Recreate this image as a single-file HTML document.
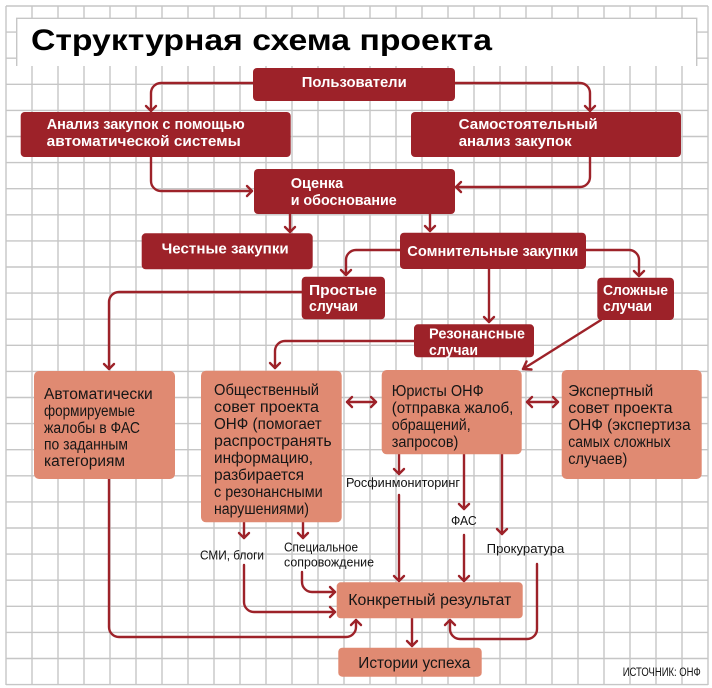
<!DOCTYPE html>
<html><head><meta charset="utf-8"><style>
html,body{margin:0;padding:0;background:#fff;}
svg{display:block;}
text{font-family:"Liberation Sans","DejaVu Sans",sans-serif;}
.w{fill:#fff;font-weight:bold;font-size:15px;}
.b{fill:#161616;font-size:15.5px;}
.l{fill:#111;font-size:13px;}
.ln{fill:none;stroke:#9d2229;stroke-width:2.4;stroke-linecap:round;stroke-linejoin:round;}
.d{fill:#9d2229;}
.s{fill:#e08a72;}
</style></head><body>
<svg width="712" height="688" viewBox="0 0 712 688" xmlns="http://www.w3.org/2000/svg">
<g stroke="#c6c6c6" stroke-width="1.4">
<line x1="6" y1="6" x2="6" y2="685"/><line x1="32" y1="6" x2="32" y2="685"/><line x1="58" y1="6" x2="58" y2="685"/><line x1="84" y1="6" x2="84" y2="685"/><line x1="110" y1="6" x2="110" y2="685"/><line x1="136" y1="6" x2="136" y2="685"/><line x1="162" y1="6" x2="162" y2="685"/><line x1="188" y1="6" x2="188" y2="685"/><line x1="214" y1="6" x2="214" y2="685"/><line x1="240" y1="6" x2="240" y2="685"/><line x1="266" y1="6" x2="266" y2="685"/><line x1="292" y1="6" x2="292" y2="685"/><line x1="318" y1="6" x2="318" y2="685"/><line x1="344" y1="6" x2="344" y2="685"/><line x1="370" y1="6" x2="370" y2="685"/><line x1="396" y1="6" x2="396" y2="685"/><line x1="422" y1="6" x2="422" y2="685"/><line x1="448" y1="6" x2="448" y2="685"/><line x1="474" y1="6" x2="474" y2="685"/><line x1="500" y1="6" x2="500" y2="685"/><line x1="526" y1="6" x2="526" y2="685"/><line x1="552" y1="6" x2="552" y2="685"/><line x1="578" y1="6" x2="578" y2="685"/><line x1="604" y1="6" x2="604" y2="685"/><line x1="630" y1="6" x2="630" y2="685"/><line x1="656" y1="6" x2="656" y2="685"/><line x1="682" y1="6" x2="682" y2="685"/><line x1="708" y1="6" x2="708" y2="685"/>
<line x1="6" y1="6" x2="708" y2="6"/><line x1="6" y1="32.1" x2="708" y2="32.1"/><line x1="6" y1="58.2" x2="708" y2="58.2"/><line x1="6" y1="84.3" x2="708" y2="84.3"/><line x1="6" y1="110.4" x2="708" y2="110.4"/><line x1="6" y1="136.5" x2="708" y2="136.5"/><line x1="6" y1="162.6" x2="708" y2="162.6"/><line x1="6" y1="188.7" x2="708" y2="188.7"/><line x1="6" y1="214.8" x2="708" y2="214.8"/><line x1="6" y1="240.9" x2="708" y2="240.9"/><line x1="6" y1="267" x2="708" y2="267"/><line x1="6" y1="293.1" x2="708" y2="293.1"/><line x1="6" y1="319.2" x2="708" y2="319.2"/><line x1="6" y1="345.3" x2="708" y2="345.3"/><line x1="6" y1="371.4" x2="708" y2="371.4"/><line x1="6" y1="397.5" x2="708" y2="397.5"/><line x1="6" y1="423.6" x2="708" y2="423.6"/><line x1="6" y1="449.7" x2="708" y2="449.7"/><line x1="6" y1="475.8" x2="708" y2="475.8"/><line x1="6" y1="501.9" x2="708" y2="501.9"/><line x1="6" y1="528" x2="708" y2="528"/><line x1="6" y1="554.1" x2="708" y2="554.1"/><line x1="6" y1="580.2" x2="708" y2="580.2"/><line x1="6" y1="606.3" x2="708" y2="606.3"/><line x1="6" y1="632.4" x2="708" y2="632.4"/><line x1="6" y1="658.5" x2="708" y2="658.5"/><line x1="6" y1="684.6" x2="708" y2="684.6"/>
</g>
<rect x="16.7" y="18.3" width="680" height="47.7" fill="#fff"/>
<path d="M16.7 66 V18.3 H696.7 V66" fill="none" stroke="#c6c6c6" stroke-width="1.4"/>
<text x="31" y="50" font-size="30" font-weight="bold" fill="#000" textLength="461" lengthAdjust="spacingAndGlyphs">Структурная схема проекта</text>

<!-- connectors -->
<g class="ln">
<path d="M253 83 H161 A10 10 0 0 0 151 93 V111"/><polyline points="146,106 151,111 156,106"/>
<path d="M455 83 H580 A10 10 0 0 1 590 93 V111"/><polyline points="585,106 590,111 595,106"/>
<path d="M151 157 V181 A10 10 0 0 0 161 191 H252"/><polyline points="247,186 252,191 247,196"/>
<path d="M590 157 V177 A10 10 0 0 1 580 187 H456"/><polyline points="461,182 456,187 461,192"/>
<path d="M290 214 V232"/><polyline points="285,227 290,232 295,227"/>
<path d="M430 214 V231"/><polyline points="425,226 430,231 435,226"/>
<path d="M400 250 H356 A10 10 0 0 0 346 260 V275"/><polyline points="341,270 346,275 351,270"/>
<path d="M586 250 H629 A10 10 0 0 1 639 260 V276"/><polyline points="634,271 639,276 644,271"/>
<path d="M489 269 V322"/><polyline points="484,317 489,322 494,317"/>
<path d="M302 292 H119 A10 10 0 0 0 109 302 V369"/><polyline points="104,364 109,369 114,364"/>
<path d="M414 341 H285 A10 10 0 0 0 275 351 V368"/><polyline points="270,363 275,368 280,363"/>
<path d="M601 320 L523 369"/><polyline points="526.5,361.5 523,369 531.5,369.5"/>
<path d="M347 402 H376"/><polyline points="352,397 347,402 352,407"/><polyline points="371,397 376,402 371,407"/>
<path d="M527 402 H558"/><polyline points="532,397 527,402 532,407"/><polyline points="553,397 558,402 553,407"/>
<path d="M399 454 V474"/><polyline points="394,469 399,474 404,469"/>
<path d="M399 495 V581"/><polyline points="394,576 399,581 404,576"/>
<path d="M464 454 V509"/><polyline points="459,504 464,509 469,504"/>
<path d="M464 535 V581"/><polyline points="459,576 464,581 469,576"/>
<path d="M502 454 V534"/><polyline points="497,529 502,534 507,529"/>
<path d="M537 564 V629 A10 10 0 0 1 527 639 H460 A10 10 0 0 1 450 629 V620"/><polyline points="445,625 450,620 455,625"/>
<path d="M244 522 V538"/><polyline points="239,533 244,538 249,533"/>
<path d="M303 522 V538"/><polyline points="298,533 303,538 308,533"/>
<path d="M244 565 V602 A10 10 0 0 0 254 612 H335"/><polyline points="330,607 335,612 330,617"/>
<path d="M302 572 V582 A10 10 0 0 0 312 592 H335"/><polyline points="330,587 335,592 330,597"/>
<path d="M109 479 V627 A10 10 0 0 0 119 637 H346 A10 10 0 0 0 356 627 V620"/><polyline points="351,625 356,620 361,625"/>
<path d="M412 618 V646"/><polyline points="407,641 412,646 417,641"/>
</g>

<!-- dark boxes -->
<rect class="d" x="253" y="68" width="202" height="33" rx="4"/>
<text class="w" x="301.7" y="87" textLength="105" lengthAdjust="spacingAndGlyphs">Пользователи</text>
<rect class="d" x="20.7" y="112" width="270" height="45" rx="4"/>
<text class="w" x="46.7" y="129" textLength="198" lengthAdjust="spacingAndGlyphs">Анализ закупок с помощью</text>
<text class="w" x="46.7" y="146" textLength="194" lengthAdjust="spacingAndGlyphs">автоматической системы</text>
<rect class="d" x="411" y="112" width="270" height="45" rx="4"/>
<text class="w" x="458.7" y="129" textLength="139" lengthAdjust="spacingAndGlyphs">Самостоятельный</text>
<text class="w" x="458.7" y="146" textLength="113" lengthAdjust="spacingAndGlyphs">анализ закупок</text>
<rect class="d" x="254" y="169" width="201" height="45" rx="4"/>
<text class="w" x="290.7" y="188" textLength="52.6" lengthAdjust="spacingAndGlyphs">Оценка</text>
<text class="w" x="290.7" y="205" textLength="106" lengthAdjust="spacingAndGlyphs">и обоснование</text>
<rect class="d" x="141.7" y="233.3" width="171" height="36" rx="4"/>
<text class="w" x="161.7" y="253.3" textLength="127" lengthAdjust="spacingAndGlyphs">Честные закупки</text>
<rect class="d" x="400" y="232.7" width="186" height="36.3" rx="4"/>
<text class="w" x="407.3" y="256" textLength="171" lengthAdjust="spacingAndGlyphs">Сомнительные закупки</text>
<rect class="d" x="301.7" y="276.7" width="83.3" height="42.6" rx="4"/>
<text class="w" x="309" y="295" textLength="68" lengthAdjust="spacingAndGlyphs">Простые</text>
<text class="w" x="309" y="311" textLength="49" lengthAdjust="spacingAndGlyphs">случаи</text>
<rect class="d" x="597.3" y="277.7" width="76.7" height="42.3" rx="4"/>
<text class="w" x="603" y="295" textLength="65" lengthAdjust="spacingAndGlyphs">Сложные</text>
<text class="w" x="603" y="311" textLength="49" lengthAdjust="spacingAndGlyphs">случаи</text>
<rect class="d" x="414" y="324.3" width="120" height="33" rx="4"/>
<text class="w" x="429" y="338.5" textLength="96" lengthAdjust="spacingAndGlyphs">Резонансные</text>
<text class="w" x="429" y="355" textLength="49" lengthAdjust="spacingAndGlyphs">случаи</text>

<!-- light boxes -->
<rect class="s" x="34" y="371" width="141" height="108" rx="5"/>
<text class="b" x="44" y="399" textLength="108.7" lengthAdjust="spacingAndGlyphs">Автоматически</text>
<text class="b" x="44" y="416" textLength="91" lengthAdjust="spacingAndGlyphs">формируемые</text>
<text class="b" x="44" y="433" textLength="96" lengthAdjust="spacingAndGlyphs">жалобы в ФАС</text>
<text class="b" x="44" y="449.5" textLength="84" lengthAdjust="spacingAndGlyphs">по заданным</text>
<text class="b" x="44" y="466" textLength="81" lengthAdjust="spacingAndGlyphs">категориям</text>

<rect class="s" x="201" y="370.7" width="140.7" height="151.6" rx="5"/>
<text class="b" x="214" y="395" textLength="105" lengthAdjust="spacingAndGlyphs">Общественный</text>
<text class="b" x="214" y="412" textLength="105" lengthAdjust="spacingAndGlyphs">совет проекта</text>
<text class="b" x="214" y="429" textLength="107.7" lengthAdjust="spacingAndGlyphs">ОНФ (помогает</text>
<text class="b" x="214" y="446" textLength="117.7" lengthAdjust="spacingAndGlyphs">распространять</text>
<text class="b" x="214" y="463" textLength="99" lengthAdjust="spacingAndGlyphs">информацию,</text>
<text class="b" x="214" y="480" textLength="90" lengthAdjust="spacingAndGlyphs">разбирается</text>
<text class="b" x="214" y="497" textLength="108.7" lengthAdjust="spacingAndGlyphs">с резонансными</text>
<text class="b" x="214" y="514" textLength="95" lengthAdjust="spacingAndGlyphs">нарушениями)</text>

<rect class="s" x="381.7" y="370" width="140" height="84.3" rx="5"/>
<text class="b" x="391.7" y="396" textLength="92" lengthAdjust="spacingAndGlyphs">Юристы ОНФ</text>
<text class="b" x="391.7" y="413" textLength="121.7" lengthAdjust="spacingAndGlyphs">(отправка жалоб,</text>
<text class="b" x="391.7" y="430" textLength="79" lengthAdjust="spacingAndGlyphs">обращений,</text>
<text class="b" x="391.7" y="447" textLength="66.7" lengthAdjust="spacingAndGlyphs">запросов)</text>

<rect class="s" x="561.7" y="370" width="140" height="109" rx="5"/>
<text class="b" x="568.3" y="396" textLength="85" lengthAdjust="spacingAndGlyphs">Экспертный</text>
<text class="b" x="568.3" y="413" textLength="104.3" lengthAdjust="spacingAndGlyphs">совет проекта</text>
<text class="b" x="568.3" y="430" textLength="122.3" lengthAdjust="spacingAndGlyphs">ОНФ (экспертиза</text>
<text class="b" x="568.3" y="447" textLength="102.3" lengthAdjust="spacingAndGlyphs">самых сложных</text>
<text class="b" x="568.3" y="464" textLength="59" lengthAdjust="spacingAndGlyphs">случаев)</text>

<rect class="s" x="336.7" y="582.3" width="186" height="36" rx="4"/>
<text class="b" x="348.3" y="605" font-size="16" textLength="163" lengthAdjust="spacingAndGlyphs">Конкретный результат</text>
<rect class="s" x="338.3" y="647.7" width="143.4" height="29" rx="4"/>
<text class="b" x="358.3" y="668" font-size="16" textLength="112" lengthAdjust="spacingAndGlyphs">Истории успеха</text>

<!-- labels -->
<text class="l" x="346" y="487" textLength="114" lengthAdjust="spacingAndGlyphs">Росфинмониторинг</text>
<text class="l" x="451" y="525" textLength="25.7" lengthAdjust="spacingAndGlyphs">ФАС</text>
<text class="l" x="486.7" y="553" textLength="77.6" lengthAdjust="spacingAndGlyphs">Прокуратура</text>
<text class="l" x="200" y="559.5" textLength="64" lengthAdjust="spacingAndGlyphs">СМИ, блоги</text>
<text class="l" x="284" y="551.7" textLength="74" lengthAdjust="spacingAndGlyphs">Специальное</text>
<text class="l" x="284" y="566.7" textLength="90" lengthAdjust="spacingAndGlyphs">сопровождение</text>
<text x="622.7" y="676" font-size="11.5" fill="#111" textLength="78" lengthAdjust="spacingAndGlyphs">ИСТОЧНИК: ОНФ</text>
</svg>
</body></html>
